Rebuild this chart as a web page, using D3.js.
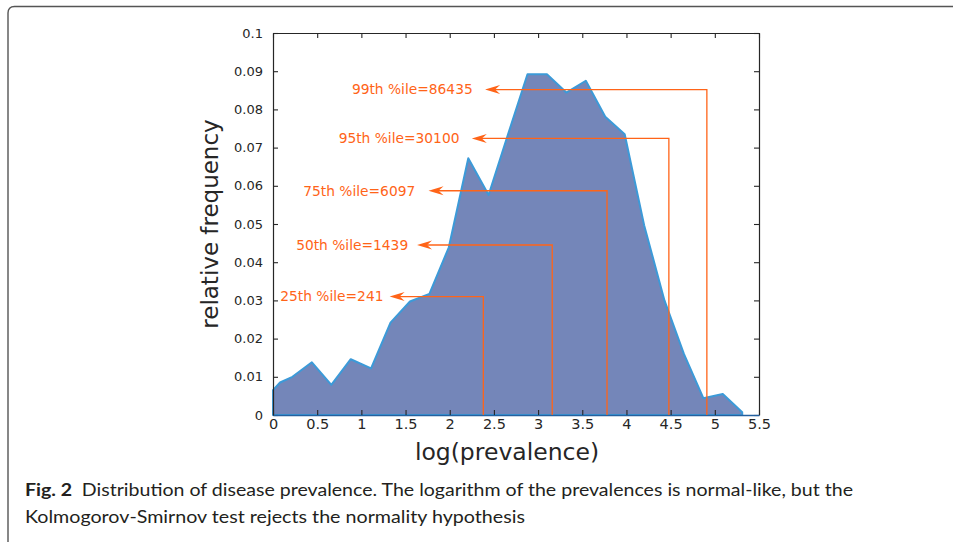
<!DOCTYPE html>
<html>
<head>
<meta charset="utf-8">
<script src="https://cdn.jsdelivr.net/npm/d3@7"></script>
<style>
  body { margin: 0; background: #fff; }
  svg { display: block; }
</style>
</head>
<body>
<svg></svg>
<script>
let svgWidth = 953
let svgHeight = 542

// histogram (bin centres in log10 prevalence, relative frequency)
let binX = [0, 0.08, 0.22, 0.44, 0.66, 0.88, 1.11, 1.33, 1.55, 1.77, 1.99, 2.21, 2.44, 2.66,
  2.88, 3.10, 3.32, 3.54, 3.76, 3.98, 4.20, 4.43, 4.65, 4.87, 5.09, 5.31]
let freq = [0.0065, 0.0085, 0.0100, 0.0138, 0.0079, 0.0146, 0.0122, 0.0242, 0.0297, 0.0317,
  0.0439, 0.0672, 0.0576, 0.0735, 0.0892, 0.0892, 0.0844, 0.0875, 0.0781, 0.0735,
  0.0497, 0.0300, 0.0160, 0.0044, 0.0055, 0.0007]

// percentile markers
let pctLabels = ['25th %ile=241', '50th %ile=1439', '75th %ile=6097', '95th %ile=30100', '99th %ile=86435']
let pctX = [2.38, 3.16, 3.78, 4.48, 4.91]
let pctY = [0.031, 0.0445, 0.0587, 0.0724, 0.0852]
let arrowTipX = [1.32, 1.63, 1.76, 2.25, 2.40]
let labelEndX = [1.25, 1.53, 1.61, 2.11, 2.26]

let xTicks = [0, 0.5, 1, 1.5, 2, 2.5, 3, 3.5, 4, 4.5, 5, 5.5]
let xTickLabels = ['0', '0.5', '1', '1.5', '2', '2.5', '3', '3.5', '4', '4.5', '5', '5.5']
let yTicks = [0, 0.01, 0.02, 0.03, 0.04, 0.05, 0.06, 0.07, 0.08, 0.09, 0.1]
let yTickLabels = ['0', '0.01', '0.02', '0.03', '0.04', '0.05', '0.06', '0.07', '0.08', '0.09', '0.1']

let captionBold = 'Fig. 2'
let captionLine1 = 'Distribution of disease prevalence. The logarithm of the prevalences is normal-like, but the'
let captionLine2 = 'Kolmogorov-Smirnov test rejects the normality hypothesis'

let plotLeft = 273, plotTop = 33, plotRight = 759, plotBottom = 415
let axisColor = '#262626'
let orange = '#ff6418'
let chartFont = '"DejaVu Sans", sans-serif'

let svg = d3.select('svg').attr('width', svgWidth).attr('height', svgHeight)

// figure frame (top + left edges, rounded corner)
svg.append('path')
  .attr('d', 'M 8 542 L 8 13 Q 8 6.5 14.5 6.5 L 953 6.5')
  .attr('fill', 'none')
  .attr('stroke', '#555')
  .attr('stroke-width', 1.4)

let xScale = d3.scaleLinear().domain([0, 5.5]).range([plotLeft, plotRight])
let yScale = d3.scaleLinear().domain([0, 0.1]).range([plotBottom, plotTop])

let data = binX.map(function(x, i) { return { x: x, y: freq[i] } })

// area
let area = d3.area()
  .x(function(d) { return xScale(d.x) })
  .y0(yScale(0))
  .y1(function(d) { return yScale(d.y) })

svg.append('path')
  .datum(data)
  .attr('d', area)
  .attr('fill', '#7486b9')
  .attr('stroke', '#3c9ad8')
  .attr('stroke-width', 2)
  .attr('stroke-linejoin', 'round')

// axes, ticks pointing inward on all four sides
function styleAxis(size) {
  return function(g) {
    g.selectAll('.domain').attr('stroke', axisColor).attr('stroke-width', 1.2)
    g.selectAll('.tick line').attr('stroke', axisColor).attr('stroke-width', 1.1)
    g.selectAll('.tick text').attr('fill', axisColor).style('font-family', chartFont).style('font-size', size)
  }
}

let xAxis = d3.axisBottom(xScale).tickValues(xTicks)
  .tickFormat(function(d, i) { return xTickLabels[i] })
  .tickSizeInner(-5).tickSizeOuter(0).tickPadding(4)
let yAxis = d3.axisLeft(yScale).tickValues(yTicks)
  .tickFormat(function(d, i) { return yTickLabels[i] })
  .tickSizeInner(-5).tickSizeOuter(0).tickPadding(10)
let xAxisTop = d3.axisTop(xScale).tickValues(xTicks).tickFormat('').tickSizeInner(-5).tickSizeOuter(0)
let yAxisRight = d3.axisRight(yScale).tickValues(yTicks).tickFormat('').tickSizeInner(-5).tickSizeOuter(0)

svg.append('g').attr('transform', 'translate(0,' + plotTop + ')').call(xAxisTop).call(styleAxis('12px'))
svg.append('g').attr('transform', 'translate(' + plotRight + ',0)').call(yAxisRight).call(styleAxis('12px'))
svg.append('g').attr('transform', 'translate(' + plotLeft + ',0)').call(yAxis).call(styleAxis('13px'))
let xg = svg.append('g').attr('transform', 'translate(0,' + plotBottom + ')').call(xAxis).call(styleAxis('14.5px'))
xg.select('.domain').attr('stroke', '#24609f').attr('stroke-width', 1.6)

// axis labels
svg.append('text')
  .attr('x', (plotLeft + plotRight) / 2 - 9)
  .attr('y', 460)
  .attr('text-anchor', 'middle')
  .attr('fill', axisColor)
  .style('font-family', chartFont)
  .style('font-size', '23.5px')
  .text('log(prevalence)')

svg.append('text')
  .attr('transform', 'translate(218,' + ((plotTop + plotBottom) / 2) + ') rotate(-90)')
  .attr('text-anchor', 'middle')
  .attr('fill', axisColor)
  .style('font-family', chartFont)
  .style('font-size', '23px')
  .text('relative frequency')

// percentile annotations
let ann = svg.append('g').attr('class', 'percentiles')
pctLabels.forEach(function(label, i) {
  let vx = xScale(pctX[i])
  let hy = yScale(pctY[i])
  let tip = xScale(arrowTipX[i])
  ann.append('path')
    .attr('d', 'M ' + vx + ' ' + plotBottom + ' L ' + vx + ' ' + hy + ' L ' + (tip + 8) + ' ' + hy)
    .attr('fill', 'none')
    .attr('stroke', orange)
    .attr('stroke-width', 1.3)
  ann.append('path')
    .attr('d', 'M ' + tip + ' ' + hy + ' L ' + (tip + 15) + ' ' + (hy - 4.5) +
      ' L ' + (tip + 10) + ' ' + hy + ' L ' + (tip + 15) + ' ' + (hy + 4.5) + ' Z')
    .attr('fill', orange)
  ann.append('text')
    .attr('x', xScale(labelEndX[i]))
    .attr('y', hy)
    .attr('dy', '0.35em')
    .attr('text-anchor', 'end')
    .attr('fill', orange)
    .style('font-family', chartFont)
    .style('font-size', '13.8px')
    .text(label)
})

// caption
let cap1 = svg.append('text')
  .attr('x', 25).attr('y', 496)
  .attr('fill', '#231f20')
  .attr('textLength', 828)
  .attr('lengthAdjust', 'spacingAndGlyphs')
  .style('font-family', 'Lato, sans-serif')
  .style('font-size', '16.5px')
cap1.append('tspan').style('font-weight', 'bold').text(captionBold)
cap1.append('tspan').text('\u2002' + captionLine1)

svg.append('text')
  .attr('x', 25).attr('y', 523)
  .attr('fill', '#231f20')
  .attr('textLength', 500)
  .attr('lengthAdjust', 'spacingAndGlyphs')
  .style('font-family', 'Lato, sans-serif')
  .style('font-size', '16.5px')
  .text(captionLine2)
</script>
</body>
</html>
